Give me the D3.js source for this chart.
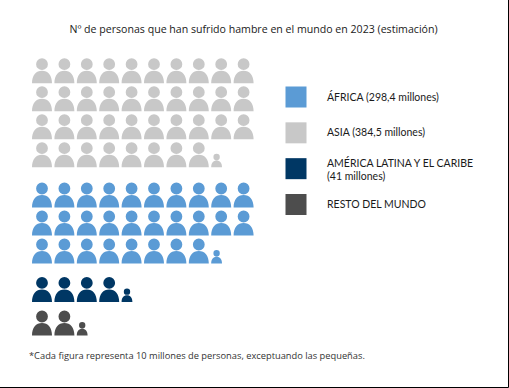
<!DOCTYPE html>
<html lang="es">
  <head>
    <meta charset="UTF-8" />
    <title>Personas que han sufrido hambre</title>
    <script src="https://cdn.jsdelivr.net/npm/d3@7"></script>
    <style>
      html, body { margin: 0; padding: 0; background: #fff; }
      svg { display: block; }
    </style>
  </head>
  <body>
    <div id="wrapper"></div>
    <script>
      const titleText = 'Nº de personas que han sufrido hambre en el mundo en 2023 (estimación)'
      const noteText = '*Cada figura representa 10 millones de personas, exceptuando las pequeñas.'

      // figures as they are drawn in the picture, top to bottom
      const groups = ['asia', 'africa', 'america', 'resto']
      const fullFigures = [38, 28, 4, 2]
      const smallFigures = [1, 1, 1, 1]

      const legendKeys = ['africa', 'asia', 'america', 'resto']
      const legendLines = [
        ['ÁFRICA (298,4 millones)'],
        ['ASIA (384,5 millones)'],
        ['AMÉRICA LATINA Y EL CARIBE', '(41 millones)'],
        ['RESTO DEL MUNDO']
      ]
      const colors = ['#c8c8c8', '#5b9bd5', '#003764', '#4d4d4d']

      const dms = {
        width: 509,
        height: 388,
        perRow: 10,
        pitchY: 28,
        firstBottom: 83.3,
        // space between the last row of a group and the first of the next
        groupGaps: [40.3, 38.4, 33.6]
      }

      const color = d3.scaleOrdinal().domain(groups).range(colors)
      const xScale = d3.scaleLinear().domain([0, dms.perRow]).range([32, 256])

      // one figure: 20 wide, 25 high, origin on the bottom left
      const personPath = d3.path()
      personPath.moveTo(15.9, -19.1)
      personPath.arc(10, -19.1, 5.9, 0, 2 * Math.PI)
      personPath.moveTo(0, 0)
      personPath.bezierCurveTo(0, -8, 4, -12.5, 10, -12.5)
      personPath.bezierCurveTo(16, -12.5, 20, -8, 20, 0)
      personPath.closePath()

      const $svg = d3.select('#wrapper').append('svg')
        .attr('width', dms.width)
        .attr('height', dms.height)
        .style('font-family', '"Open Sans", sans-serif')

      $svg.append('text')
        .attr('x', 253.5)
        .attr('y', 33)
        .attr('text-anchor', 'middle')
        .attr('font-size', 10.6)
        .attr('fill', '#1a1a1a')
        .text(titleText)

      // lay the groups out row by row
      const figures = []
      let bottom = dms.firstBottom
      groups.forEach((group, i) => {
        const total = fullFigures[i] + smallFigures[i]
        d3.range(total).forEach(n => {
          figures.push({
            group,
            small: n >= fullFigures[i],
            col: n % dms.perRow,
            bottom: bottom + Math.floor(n / dms.perRow) * dms.pitchY
          })
        })
        bottom += (Math.ceil(total / dms.perRow) - 1) * dms.pitchY + (dms.groupGaps[i] || 0)
      })

      $svg.append('g')
        .selectAll('path')
        .data(figures)
        .join('path')
        .attr('d', personPath.toString())
        .attr('fill', d => color(d.group))
        .attr('transform', d => `translate(${xScale(d.col)},${d.bottom}) scale(${d.small ? 0.54 : 1})`)

      const legendY = d3.scalePoint().domain(legendKeys).range([97, 204.5])
      const legend = $svg.append('g')
        .selectAll('g')
        .data(legendKeys)
        .join('g')
        .attr('transform', d => `translate(0,${legendY(d)})`)

      legend.append('rect')
        .attr('x', 285.5)
        .attr('y', -10.5)
        .attr('width', 21)
        .attr('height', 21)
        .attr('fill', d => color(d))

      legend.append('text')
        .attr('x', 327)
        .attr('font-family', 'Lato, sans-serif')
        .attr('font-size', 10.5)
        .attr('fill', '#1a1a1a')
        .each(function (d, i) {
          const lines = legendLines[i]
          d3.select(this).selectAll('tspan')
            .data(lines)
            .join('tspan')
            .attr('x', 327)
            .attr('y', (l, j) => (lines.length > 1 ? -2 : 3.5) + j * 13)
            .text(l => l)
        })

      $svg.append('text')
        .attr('x', 29)
        .attr('y', 358.5)
        .attr('font-size', 9.3)
        .attr('fill', '#333')
        .text(noteText)

      // the dark frame on the right and bottom of the picture
      $svg.append('path')
        .attr('d', `M${dms.width - 0.5},0V${dms.height - 0.5}H0`)
        .attr('fill', 'none')
        .attr('stroke', '#000')
        .attr('stroke-width', 1)
    </script>
  </body>
</html>
